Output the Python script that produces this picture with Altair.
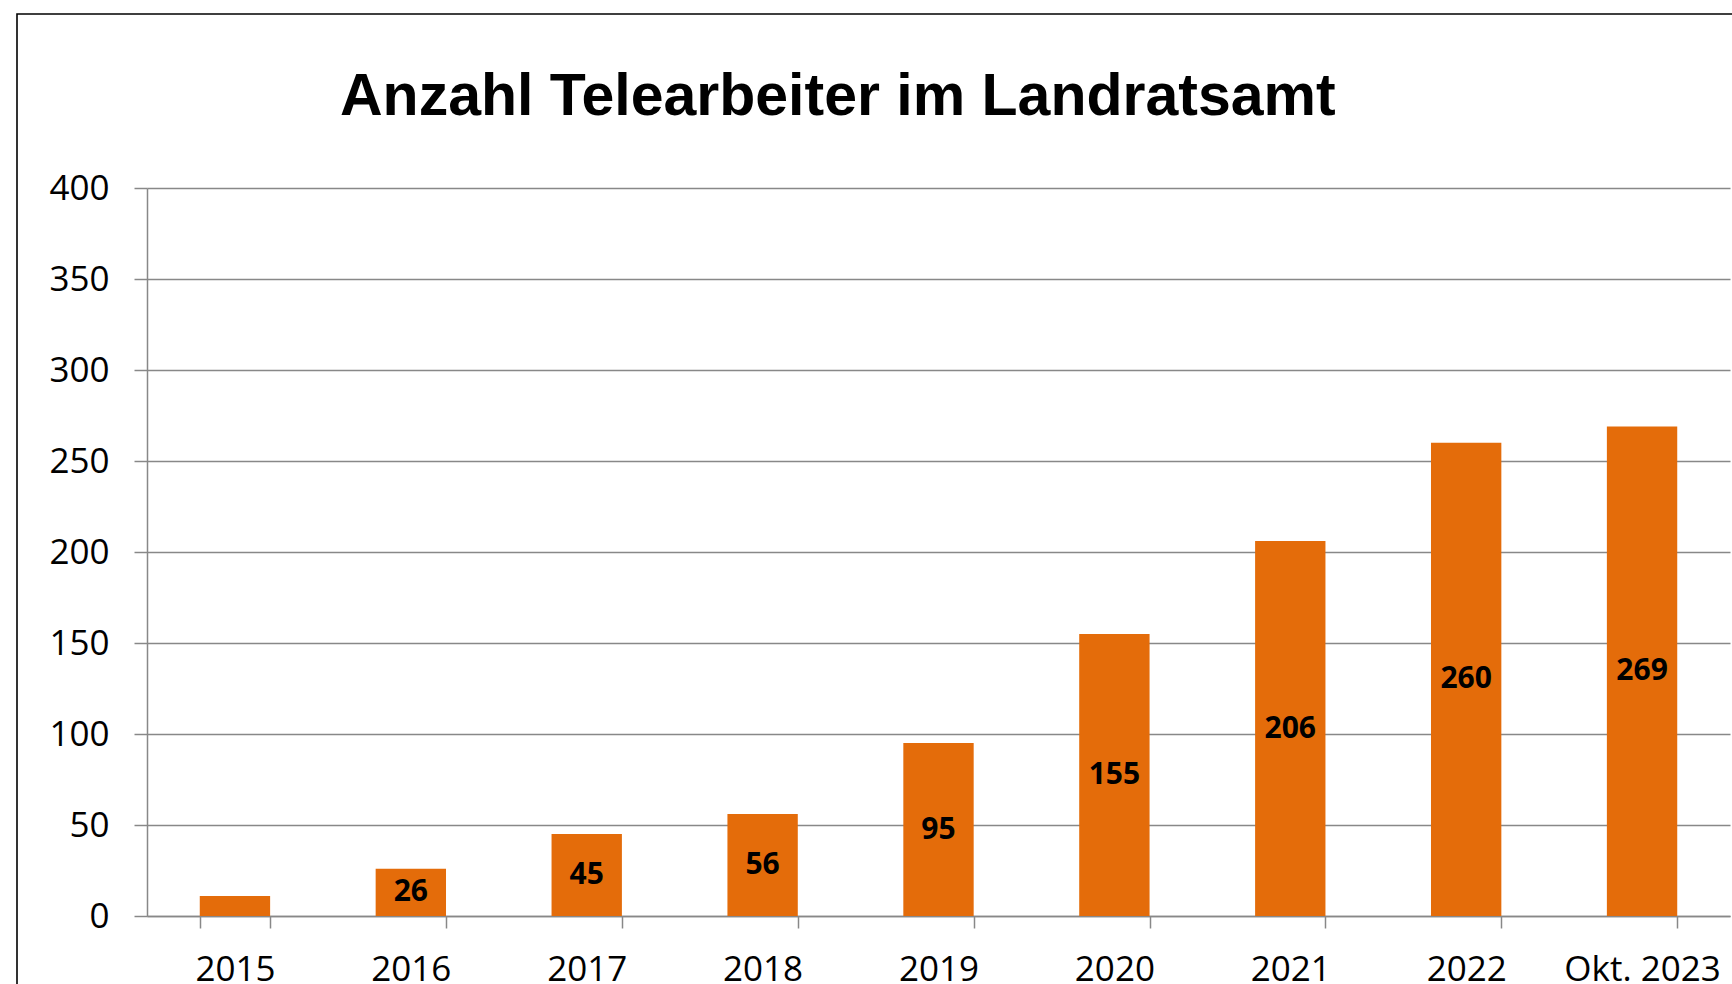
import altair as alt
import pandas as pd

categories = ["2015", "2016", "2017", "2018", "2019", "2020", "2021", "2022", "Okt. 2023"]
values = [11, 26, 45, 56, 95, 155, 206, 260, 269]
value_labels = ["", "26", "45", "56", "95", "155", "206", "260", "269"]
y_ticks = [0, 50, 100, 150, 200, 250, 300, 350, 400]

df = pd.DataFrame({"cat": categories, "val": values, "lab": value_labels})

GRAY = "#888888"
ORANGE = "#E46C0A"

x_enc = alt.X(
    "cat:N",
    sort=categories,
    scale=alt.Scale(paddingInner=0.6, paddingOuter=0.3),
    axis=alt.Axis(
        title=None, labelAngle=0, tickBand="extent", tickSize=12, labelPadding=24,
        grid=False, domainColor=GRAY, tickColor=GRAY, domainWidth=1.5, tickWidth=1.5,
        labelFont="Open Sans", labelFontSize=35, labelColor="black",
    ),
)

bars = alt.Chart(df).mark_bar(color=ORANGE).encode(
    x=x_enc,
    y=alt.Y(
        "val:Q",
        scale=alt.Scale(domain=[0, 400]),
        axis=alt.Axis(
            title=None, values=y_ticks, tickSize=13, labelPadding=25, grid=True,
            gridColor=GRAY, gridWidth=1.5, domainColor=GRAY, tickColor=GRAY,
            domainWidth=1.5, tickWidth=1.5,
            labelFont="Open Sans", labelFontSize=35, labelColor="black",
        ),
    ),
)

text = alt.Chart(df).transform_calculate(mid="datum.val / 2").mark_text(
    font="Open Sans", fontWeight="bold", fontSize=30, baseline="middle", color="black"
).encode(
    x=alt.X("cat:N", sort=categories),
    y=alt.Y("mid:Q"),
    text="lab:N",
)

frame = alt.Chart(alt.Data(values=[{"a": 1}])).mark_rect(
    filled=False, stroke="black", strokeWidth=1.6
).encode(
    x=alt.value(-130), x2=alt.value(2000), y=alt.value(-174), y2=alt.value(2000)
)

chart = alt.layer(frame, bars, text).properties(
    width=1583,
    height=728,
    padding={"left": 147, "top": 188, "right": 2, "bottom": 68},
    autosize=alt.AutoSizeParams(type="none"),
    background="white",
    title=alt.Title(
        "Anzahl Telearbeiter im Landratsamt",
        font="Liberation Sans", fontSize=59, fontWeight="bold", color="black",
        anchor="start", frame="group", dx=193, offset=0, dy=161, baseline="alphabetic",
    ),
).configure_view(stroke=None)

chart.save("out.html", embed_options={"renderer": "svg", "actions": False})
